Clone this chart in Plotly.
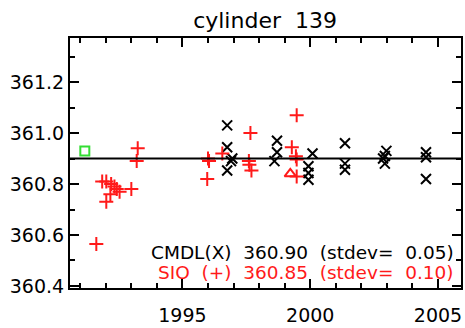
import plotly.graph_objects as go

# ---- data ----
cmdl_x = [1996.75, 1996.75, 1996.95, 1996.90, 1996.75, 1998.70, 1998.70, 1998.60,
          2000.09, 1999.93, 1999.93, 1999.93, 2001.36, 2001.36, 2001.36,
          2002.98, 2002.92, 2002.85, 2002.92, 2004.53, 2004.53, 2004.53]
cmdl_y = [361.03, 360.944, 360.90, 360.89, 360.853, 360.97, 360.925, 360.89,
          360.92, 360.87, 360.843, 360.817, 360.96, 360.88, 360.856,
          360.93, 360.91, 360.90, 360.88, 360.925, 360.905, 360.82]

sio_x = [1991.63, 1991.86, 1992.02, 1992.21, 1992.34, 1992.43, 1992.54, 1992.18,
         1992.02, 1993.00, 1993.25, 1993.21, 1995.97, 1996.00, 1996.04, 1996.56,
         1997.66, 1997.60, 1997.62, 1997.70, 1999.47, 1999.28, 1999.44, 1999.47, 1999.47]
sio_y = [360.565, 360.81, 360.81, 360.80, 360.79, 360.78, 360.77, 360.76,
         360.73, 360.78, 360.94, 360.89, 360.82, 360.90, 360.89, 360.92,
         361.00, 360.89, 360.876, 360.853, 361.07, 360.944, 360.909, 360.896, 360.83]

green_x = [1991.18]
green_y = [360.93]
tri_x = [1999.22]
tri_y = [360.84]

cmdl_mean = 360.90
cmdl_std = 0.05
sio_mean = 360.85
sio_std = 0.10
title = "cylinder  139"

FONT = "DejaVu Sans, sans-serif"
RED = "#ff1a1a"

fig = go.Figure()
fig.add_trace(go.Scatter(x=cmdl_x, y=cmdl_y, mode="markers",
                         marker=dict(symbol="x-thin", size=10, color="black",
                                     line=dict(width=2, color="black"))))
fig.add_trace(go.Scatter(x=sio_x, y=sio_y, mode="markers",
                         marker=dict(symbol="cross-thin", size=10, color=RED,
                                     line=dict(width=2, color=RED))))
fig.add_trace(go.Scatter(x=green_x, y=green_y, mode="markers",
                         marker=dict(symbol="square-open", size=9, color="#33dd33",
                                     line=dict(width=2, color="#33dd33"))))
fig.add_trace(go.Scatter(x=tri_x, y=tri_y, mode="markers",
                         marker=dict(symbol="triangle-up-open", size=10, color=RED,
                                     line=dict(width=2, color=RED))))

fig.add_shape(type="line", xref="paper", x0=0, x1=1, yref="y", y0=cmdl_mean, y1=cmdl_mean,
              line=dict(color="black", width=2))

fig.add_annotation(xref="paper", yref="paper", x=0.987, y=0.142, xanchor="right", yanchor="middle",
                   showarrow=False, text=f"CMDL(X)  {cmdl_mean:.2f}  (stdev=  {cmdl_std:.2f})",
                   font=dict(family=FONT, size=18.5, color="black"))
fig.add_annotation(xref="paper", yref="paper", x=0.987, y=0.062, xanchor="right", yanchor="middle",
                   showarrow=False, text=f"SIO  (+)  {sio_mean:.2f}  (stdev=  {sio_std:.2f})",
                   font=dict(family=FONT, size=18.5, color=RED))

axis_common = dict(showline=True, linecolor="black", linewidth=2, mirror="allticks",
                   ticks="inside", ticklen=9, tickwidth=1.5, tickcolor="black",
                   showgrid=False, zeroline=False,
                   tickfont=dict(family=FONT, size=19, color="black"))

fig.update_xaxes(range=[1990.6, 2005.9], tick0=1995, dtick=5, ticklabelstandoff=9,
                 minor=dict(ticks="inside", dtick=1, tick0=1995, ticklen=5, tickcolor="black",
                            tickwidth=1.5, showgrid=False),
                 **axis_common)
fig.update_yaxes(range=[360.392, 361.373], tick0=360.4, dtick=0.2, tickformat=".1f",
                 minor=dict(ticks="inside", dtick=0.1, tick0=360.4, ticklen=5, tickcolor="black",
                            tickwidth=1.5, showgrid=False),
                 **axis_common)

fig.update_layout(width=465, height=328, margin=dict(l=70, r=2, t=38, b=40),
                  paper_bgcolor="white", plot_bgcolor="white", showlegend=False,
                  title=dict(text=title, x=0.57, xanchor="center", y=0.939, yanchor="middle",
                             font=dict(family=FONT, size=22, color="black")))

fig.write_html("out.html")
